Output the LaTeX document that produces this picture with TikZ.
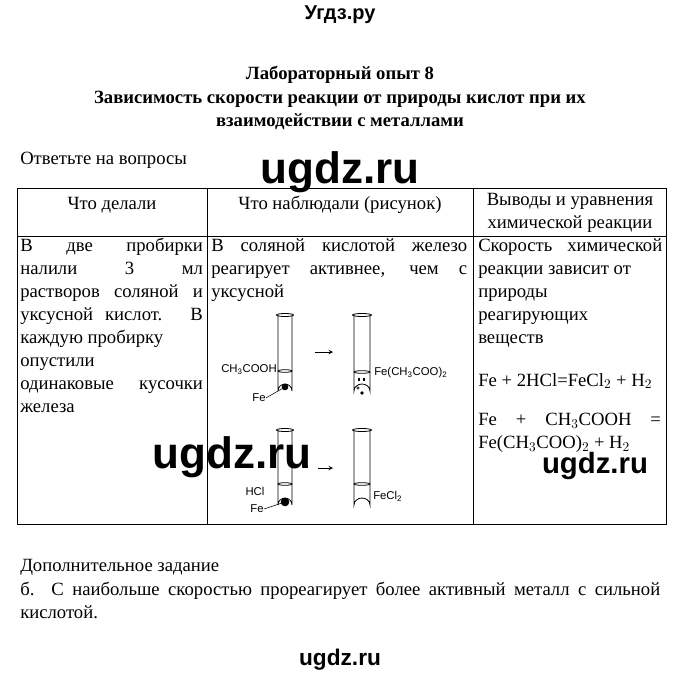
\documentclass[tikz,border=0pt]{standalone}
\usepackage{fontspec}
\setmainfont{Liberation Serif}
\newfontfamily\arial{Liberation Sans}
\begin{document}
\begin{tikzpicture}[x=0.75pt,y=-0.75pt,
  txt/.style={inner sep=0pt,font=\fontsize{14}{17.25}\selectfont},
  par/.style={txt,anchor=north west,align=justify},
  wm/.style={inner sep=0pt,font=\arial\bfseries\fontsize{33}{33}\selectfont},
  chem/.style={inner sep=0pt,font=\arial\fontsize{8.5}{10}\selectfont},
  tube/.style={line width=0.6pt},
  grid/.style={line width=0.6pt}]
\useasboundingbox[fill=white] (0,0) rectangle (680,682);
\node[inner sep=0pt,font=\arial\bfseries\fontsize{15}{15}\selectfont] (site) at (340,15) {Угдз.ру};
\node[txt,font=\bfseries\fontsize{14}{17.25}\selectfont] (t1) at (340,75) {Лабораторный опыт 8};
\node[txt,font=\bfseries\fontsize{14}{17.25}\selectfont] (t2) at (340,99) {Зависимость скорости реакции от природы кислот при их};
\node[txt,font=\bfseries\fontsize{14}{17.25}\selectfont] (t3) at (340,122) {взаимодействии с металлами};
\node[txt,anchor=west] (q) at (20,160) {Ответьте на вопросы};
% table
\draw[grid] (17,188) rectangle (666,524);
\draw[grid] (17,236) -- (666,236);
\draw[grid] (207,188) -- (207,524);
\draw[grid] (473,188) -- (473,524);
\node[txt] (h1) at (112,205) {Что делали};
\node[txt] (h2) at (340,205) {Что наблюдали (рисунок)};
\node[txt,align=center] (h3) at (570,213) {Выводы и уравнения\\химической реакции};
\node[par,text width=137pt] (c1) at (20,238) {В две пробирки\linebreak налили 3 мл\linebreak растворов соляной и\linebreak уксусной кислот. В\linebreak каждую пробирку\\ опустили\\ одинаковые кусочки\linebreak железа};
\node[par,text width=192pt] (c2) at (211,238) {В соляной кислотой железо\linebreak реагирует активнее, чем с\linebreak уксусной};
\node[par,text width=138pt] (c3) at (478,238) {Скорость химической\linebreak реакции зависит от\\ природы\\ реагирующих\\ веществ};
\node[txt,anchor=west] (e1) at (478,381) {Fe + 2HCl=FeCl$_2$ + H$_2$};
\node[par,text width=137pt] (e2) at (478,413) {Fe + CH$_3$COOH =\linebreak Fe(CH$_3$COO)$_2$ + H$_2$};
% tubes
\foreach \n/\xa/\xb/\top/\bot/\liq in {A/278/292/315/398/371, B/354/370/315/398/372, C/278/292/430/512/484, D/354/370/430/512/484}{
  \draw[tube] (\xa,\top) -- (\xa,\bot-7) arc[start angle=180,end angle=360,x radius={(\xb-\xa)/2},y radius=7] -- (\xb,\top);
  \draw[tube] ({(\xa+\xb)/2},\top) ellipse[x radius={(\xb-\xa)/2+1.5},y radius=1.5];
  \draw[tube] (\xa,\liq) arc[start angle=180,end angle=360,x radius={(\xb-\xa)/2},y radius=1.3];
  \draw[tube] (\xa,\liq) arc[start angle=180,end angle=0,x radius={(\xb-\xa)/2},y radius=1.3];
  \coordinate (\n) at ({(\xa+\xb)/2},\liq);
}
\coordinate (feA) at (285,387);
\coordinate (feC) at (285,502);
\fill (feA) circle (3.3);
\fill (feC) circle (4.3);
\fill (362,393) circle (1.8);
\draw (358,388) circle (1.2);
\draw[line width=0.8pt] (359,378)--(359,381) (364,378)--(364,381);
\node[chem,anchor=east] (lA) at (277,370) {CH\textsubscript{3}COOH};
\node[chem] (fA) at (259,398) {Fe};
\draw[line width=0.4pt] (fA.east) -- (feA);
\node[chem,anchor=west] (lB) at (374,373) {Fe(CH\textsubscript{3}COO)\textsubscript{2}};
\node[chem] (lC) at (255,491) {HCl};
\node[chem] (fC) at (257,509) {Fe};
\draw[line width=0.4pt] (fC.east) -- (feC);
\node[chem,anchor=west] (lD) at (373,496) {FeCl\textsubscript{2}};
\coordinate (a1) at (315,352); \coordinate (a2) at (333,352);
\draw[->,>=stealth,line width=0.5pt] (a1) -- (a2);
\coordinate (a3) at (318,468); \coordinate (a4) at (333,468);
\draw[->,>=stealth,line width=0.5pt] (a3) -- (a4);
% watermarks
\node[wm] (w1) at (340,172) {ugdz.ru};
\node[wm] (w2) at (232,457) {ugdz.ru};
\node[wm,font=\arial\bfseries\fontsize{22}{22}\selectfont] (w3) at (595,466) {ugdz.ru};
% bottom
\node[txt,anchor=west] (d) at (20,567) {Дополнительное задание};
\node[par,text width=480pt] (d2) at (20,582) {б.\ \ С наибольше скоростью прореагирует более активный металл с сильной\linebreak кислотой.};
\node[wm,font=\arial\bfseries\fontsize{17}{17}\selectfont] (w4) at (340,660) {ugdz.ru};
\end{tikzpicture}
\end{document}
